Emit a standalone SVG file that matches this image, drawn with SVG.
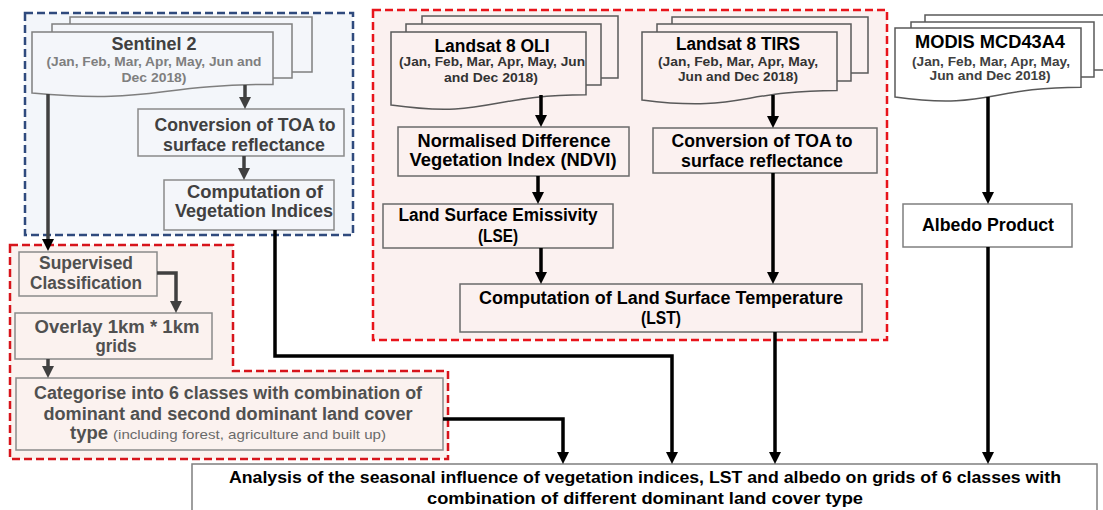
<svg xmlns="http://www.w3.org/2000/svg" width="1103" height="510" viewBox="0 0 1103 510">
<style>
.t{font-family:"Liberation Sans",Arial,sans-serif;font-weight:bold;text-anchor:middle}
.h{font-size:17.5px}
.s{font-size:13.5px}
.g1{fill:#404040}
.g2{fill:#7f7f7f}
.g3{fill:#505050}
.k{fill:#000}
.ks{fill:#333}
.sheetB{fill:#f4f6fa;stroke:#7f7f7f;stroke-width:1.5}
.sheetR{fill:#fbf1f0;stroke:#595959;stroke-width:1.5}
.sheetW{fill:#fff;stroke:#595959;stroke-width:1.5}
.boxB{fill:#f4f6fa;stroke:#8a8a8a;stroke-width:1.5}
.boxR{fill:#fbf1f0;stroke:#6a6a6a;stroke-width:1.5}
.boxL{fill:#fbf2ef;stroke:#8a8a8a;stroke-width:1.5}
.boxW{fill:#fff;stroke:#7f7f7f;stroke-width:1.5}
.cK{fill:none;stroke:#000;stroke-width:3.5}
.cG{fill:none;stroke:#404040;stroke-width:3.5}
</style>
<defs>
<marker id="ak" viewBox="0 0 12 12" refX="4" refY="6" markerWidth="12" markerHeight="12" markerUnits="userSpaceOnUse" orient="auto"><path d="M0,0 L12,6 L0,12 z" fill="#000"/></marker>
<marker id="ag" viewBox="0 0 12 12" refX="4" refY="6" markerWidth="12" markerHeight="12" markerUnits="userSpaceOnUse" orient="auto"><path d="M0,0 L12,6 L0,12 z" fill="#404040"/></marker>
</defs>
<rect width="1103" height="510" fill="#fff"/>

<g id="groups">
<rect id="sentinel-group" x="25" y="13" width="328" height="222" fill="#f3f6fa" stroke="#2f4a7d" stroke-width="2.5" stroke-dasharray="8 4"/>
<rect id="landsat-group" x="373" y="10" width="514" height="330" fill="#fbf1f0" stroke="#e8141b" stroke-width="2.5" stroke-dasharray="8 4"/>
<polygon id="classification-group" points="10,245 233,245 233,371 448,371 448,459 10,459" fill="#fbf2ef" stroke="#d7141b" stroke-width="2.5" stroke-dasharray="8 4"/>
</g>

<g id="sentinel2">
<rect class="sheetB" x="70" y="17" width="242" height="55"/>
<rect class="sheetB" x="52" y="24" width="240" height="54"/>
<path class="sheetB" d="M32,32 H273 V84.4 C152.5,84.4 152.5,104.3 32,93 Z"/>
<text class="t g1" x="154" y="50" font-size="18" textLength="85" lengthAdjust="spacingAndGlyphs">Sentinel 2</text>
<text class="t s g2" x="154" y="66" textLength="215" lengthAdjust="spacingAndGlyphs">(Jan, Feb, Mar, Apr, May, Jun and</text>
<text class="t s g2" x="154" y="82" textLength="65" lengthAdjust="spacingAndGlyphs">Dec 2018)</text>
</g>
<g id="s2-toa">
<rect class="boxB" x="138" y="109" width="206" height="47"/>
<text class="t h g1" x="245" y="131" textLength="181" lengthAdjust="spacingAndGlyphs">Conversion of TOA to</text>
<text class="t h g1" x="244" y="151" textLength="162" lengthAdjust="spacingAndGlyphs">surface reflectance</text>
</g>
<g id="s2-vi">
<rect class="boxB" x="164" y="180" width="170" height="50"/>
<text class="t h g1" x="255" y="198" textLength="136" lengthAdjust="spacingAndGlyphs">Computation of</text>
<text class="t h g1" x="254" y="217" textLength="158" lengthAdjust="spacingAndGlyphs">Vegetation Indices</text>
</g>

<g id="supervised">
<rect class="boxL" x="19" y="252" width="138" height="44"/>
<text class="t h g3" x="86" y="269" textLength="94" lengthAdjust="spacingAndGlyphs">Supervised</text>
<text class="t h g3" x="86" y="289" textLength="112" lengthAdjust="spacingAndGlyphs">Classification</text>
</g>
<g id="overlay">
<rect class="boxL" x="15" y="313" width="197" height="46"/>
<text class="t h g3" x="117" y="333" textLength="165" lengthAdjust="spacingAndGlyphs">Overlay 1km * 1km</text>
<text class="t h g3" x="116" y="352" textLength="41" lengthAdjust="spacingAndGlyphs">grids</text>
</g>
<g id="categorise">
<rect class="boxL" x="16" y="378" width="427" height="72"/>
<text class="t h g3" x="228" y="399" textLength="388" lengthAdjust="spacingAndGlyphs">Categorise into 6 classes with combination of</text>
<text class="t h g3" x="228" y="420" textLength="369" lengthAdjust="spacingAndGlyphs">dominant and second dominant land cover</text>
<text class="t h g3" x="70" y="439" text-anchor="start" style="text-anchor:start" textLength="38" lengthAdjust="spacingAndGlyphs">type</text>
<text x="113" y="439" font-family="Liberation Sans, Arial, sans-serif" font-size="13" fill="#6a6a6a" textLength="273" lengthAdjust="spacingAndGlyphs">(including forest, agriculture and built up)</text>
</g>

<g id="landsat-oli">
<rect class="sheetR" x="422" y="16" width="196" height="62"/>
<rect class="sheetR" x="406" y="24" width="195" height="61"/>
<path class="sheetR" d="M391,32 H586 V94.7 C488.5,94.7 488.5,118.6 391,105 Z"/>
<text class="t k" x="492" y="52" font-size="18" textLength="115" lengthAdjust="spacingAndGlyphs">Landsat 8 OLI</text>
<text class="t s ks" x="492" y="66" textLength="186" lengthAdjust="spacingAndGlyphs">(Jan, Feb, Mar, Apr, May, Jun</text>
<text class="t s ks" x="491" y="82" textLength="94" lengthAdjust="spacingAndGlyphs">and Dec 2018)</text>
</g>
<g id="ndvi">
<rect class="boxR" x="398" y="127" width="231" height="49"/>
<text class="t h k" x="514" y="147" textLength="193" lengthAdjust="spacingAndGlyphs">Normalised Difference</text>
<text class="t h k" x="513" y="166" textLength="207" lengthAdjust="spacingAndGlyphs">Vegetation Index (NDVI)</text>
</g>
<g id="lse">
<rect class="boxR" x="383" y="204" width="230" height="44"/>
<text class="t h k" x="498" y="221" textLength="199" lengthAdjust="spacingAndGlyphs">Land Surface Emissivity</text>
<text class="t h k" x="498" y="242" textLength="40" lengthAdjust="spacingAndGlyphs">(LSE)</text>
</g>
<g id="landsat-tirs">
<rect class="sheetR" x="672" y="17" width="196" height="56"/>
<rect class="sheetR" x="657" y="24" width="194" height="57"/>
<path class="sheetR" d="M642,32 H837 V90.4 C739.5,90.4 739.5,112.6 642,100 Z"/>
<text class="t k" x="738" y="50" font-size="18" textLength="124" lengthAdjust="spacingAndGlyphs">Landsat 8 TIRS</text>
<text class="t s ks" x="738" y="66" textLength="160" lengthAdjust="spacingAndGlyphs">(Jan, Feb, Mar, Apr, May,</text>
<text class="t s ks" x="738" y="81" textLength="120" lengthAdjust="spacingAndGlyphs">Jun and Dec 2018)</text>
</g>
<g id="tirs-toa">
<rect class="boxR" x="653" y="128" width="224" height="45"/>
<text class="t h k" x="762" y="147" textLength="181" lengthAdjust="spacingAndGlyphs">Conversion of TOA to</text>
<text class="t h k" x="762" y="167" textLength="162" lengthAdjust="spacingAndGlyphs">surface reflectance</text>
</g>
<g id="lst">
<rect class="boxR" x="460" y="284" width="402" height="48"/>
<text class="t h k" x="661" y="304" textLength="364" lengthAdjust="spacingAndGlyphs">Computation of Land Surface Temperature</text>
<text class="t h k" x="661" y="324" textLength="40" lengthAdjust="spacingAndGlyphs">(LST)</text>
</g>

<g id="modis">
<rect class="sheetW" x="925" y="15" width="190" height="55"/>
<rect class="sheetW" x="911" y="22" width="183" height="55"/>
<path class="sheetW" d="M895,28 H1081 V87.3 C988,87.3 988,109.8 895,97 Z"/>
<text class="t k" x="990" y="48" font-size="18" textLength="150" lengthAdjust="spacingAndGlyphs">MODIS MCD43A4</text>
<text class="t s g1" x="991" y="66" textLength="158" lengthAdjust="spacingAndGlyphs">(Jan, Feb, Mar, Apr, May,</text>
<text class="t s g1" x="990" y="80" textLength="121" lengthAdjust="spacingAndGlyphs">Jun and Dec 2018)</text>
</g>
<g id="albedo">
<rect class="boxW" x="903" y="204" width="169" height="43"/>
<text class="t h k" x="988" y="231" textLength="132" lengthAdjust="spacingAndGlyphs">Albedo Product</text>
</g>

<g id="analysis">
<rect class="boxW" x="192" y="464" width="905" height="60"/>
<text class="t k" x="645" y="483" font-size="17" textLength="832" lengthAdjust="spacingAndGlyphs">Analysis of the seasonal influence of vegetation indices, LST and albedo on grids of 6 classes with</text>
<text class="t k" x="645" y="504" font-size="17" textLength="436" lengthAdjust="spacingAndGlyphs">combination of different dominant land cover type</text>
</g>

<g id="connectors">
<line class="cG" x1="245" y1="85" x2="245" y2="101" marker-end="url(#ag)"/>
<line class="cG" x1="244" y1="156" x2="244" y2="172" marker-end="url(#ag)"/>
<line class="cG" x1="48" y1="94" x2="48" y2="243" marker-end="url(#ak)"/>
<polyline class="cG" points="157,273 176,273 176,305" marker-end="url(#ag)"/>
<line class="cG" x1="48" y1="359" x2="48" y2="370" marker-end="url(#ag)"/>
<polyline class="cK" points="275,230 275,356 672,356 672,456" marker-end="url(#ak)"/>
<polyline class="cK" points="443,419 563,419 563,456" marker-end="url(#ak)"/>
<line class="cK" x1="541" y1="95" x2="541" y2="119" marker-end="url(#ak)"/>
<line class="cK" x1="538" y1="176" x2="538" y2="196" marker-end="url(#ak)"/>
<line class="cK" x1="541" y1="248" x2="541" y2="276" marker-end="url(#ak)"/>
<line class="cK" x1="773" y1="95" x2="773" y2="120" marker-end="url(#ak)"/>
<line class="cK" x1="773" y1="173" x2="773" y2="276" marker-end="url(#ak)"/>
<line class="cK" x1="775" y1="332" x2="775" y2="456" marker-end="url(#ak)"/>
<line class="cK" x1="988" y1="97" x2="988" y2="196" marker-end="url(#ak)"/>
<line class="cK" x1="988" y1="247" x2="988" y2="456" marker-end="url(#ak)"/>
</g>
</svg>
